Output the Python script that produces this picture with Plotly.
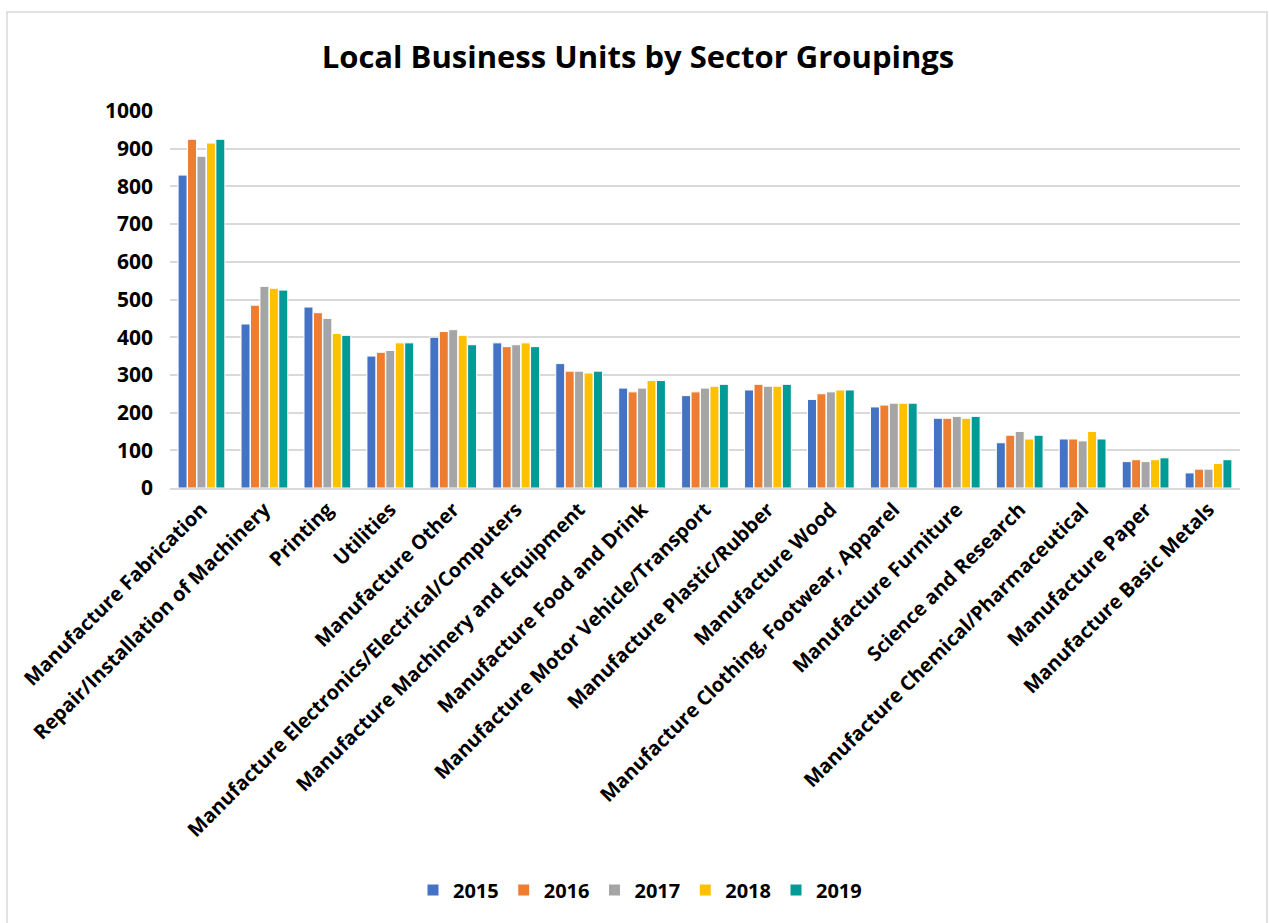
import plotly.graph_objects as go

categories = [
    "Manufacture Fabrication",
    "Repair/Installation of Machinery",
    "Printing",
    "Utilities",
    "Manufacture Other",
    "Manufacture Electronics/Electrical/Computers",
    "Manufacture Machinery and Equipment",
    "Manufacture Food and Drink",
    "Manufacture Motor Vehicle/Transport",
    "Manufacture Plastic/Rubber",
    "Manufacture Wood",
    "Manufacture Clothing, Footwear, Apparel",
    "Manufacture Furniture",
    "Science and Research",
    "Manufacture Chemical/Pharmaceutical",
    "Manufacture Paper",
    "Manufacture Basic Metals",
]

y2015 = [830, 435, 480, 350, 400, 385, 330, 265, 245, 260, 235, 215, 185, 120, 130, 70, 40]
y2016 = [925, 485, 465, 360, 415, 375, 310, 255, 255, 275, 250, 220, 185, 140, 130, 75, 50]
y2017 = [880, 535, 450, 365, 420, 380, 310, 265, 265, 270, 255, 225, 190, 150, 125, 70, 50]
y2018 = [915, 530, 410, 385, 405, 385, 305, 285, 270, 270, 260, 225, 185, 130, 150, 75, 65]
y2019 = [925, 525, 405, 385, 380, 375, 310, 285, 275, 275, 260, 225, 190, 140, 130, 80, 75]

years = ["2015", "2016", "2017", "2018", "2019"]
series = [y2015, y2016, y2017, y2018, y2019]
colors = ["#4472C4", "#ED7D31", "#A5A5A5", "#FFC000", "#009B96"]

FONT = "Open Sans"

fig = go.Figure()
for name, vals, col in zip(years, series, colors):
    fig.add_trace(go.Bar(
        x=categories, y=vals, name=name,
        marker=dict(color=col, line=dict(color="white", width=1)),
    ))

# plot area: x 170..1240, y 111..488
L, R, T, B = 170, 1240, 111, 488
W, H = R - L, B - T

fig.update_layout(
    width=1269, height=923,
    margin=dict(l=L, r=1269 - R, t=T, b=923 - B, autoexpand=False),
    paper_bgcolor="white", plot_bgcolor="white",
    barmode="group", bargap=0.25, bargroupgap=0.05,
    font=dict(family=FONT, color="black"),
    title=dict(
        text="Local Business Units by Sector Groupings",
        x=(638) / 1269, xanchor="center", xref="container",
        y=1 - 57 / 923, yanchor="middle", yref="container",
        font=dict(family=FONT, size=31, weight="bold", color="black"),
    ),
    legend=dict(
        orientation="h", x=(640 - L) / W, xanchor="center",
        y=(B - 890) / H, yanchor="middle",
        font=dict(family=FONT, size=20, weight="bold", color="black"),
        itemwidth=30, traceorder="normal",
    ),
    xaxis=dict(
        tickangle=-45, showgrid=False, showline=True,
        linecolor="#D9D9D9", linewidth=2,
        tickfont=dict(family=FONT, size=20, weight="bold", color="black"),
        ticks="",
    ),
    yaxis=dict(
        range=[0, 1000], dtick=100, showgrid=True,
        gridcolor="#D9D9D9", gridwidth=2, zeroline=False,
        tickfont=dict(family=FONT, size=21, weight="bold", color="black"),
        ticks="", ticklabelstandoff=16,
    ),
    shapes=[dict(
        type="rect", xref="paper", yref="paper",
        x0=(7 - L) / W, x1=(1267 - L) / W,
        y0=(B - 925) / H, y1=(B - 12) / H,
        line=dict(color="#D9D9D9", width=1.5), fillcolor="rgba(0,0,0,0)",
        layer="below",
    )],
)

fig.write_html("out.html")
